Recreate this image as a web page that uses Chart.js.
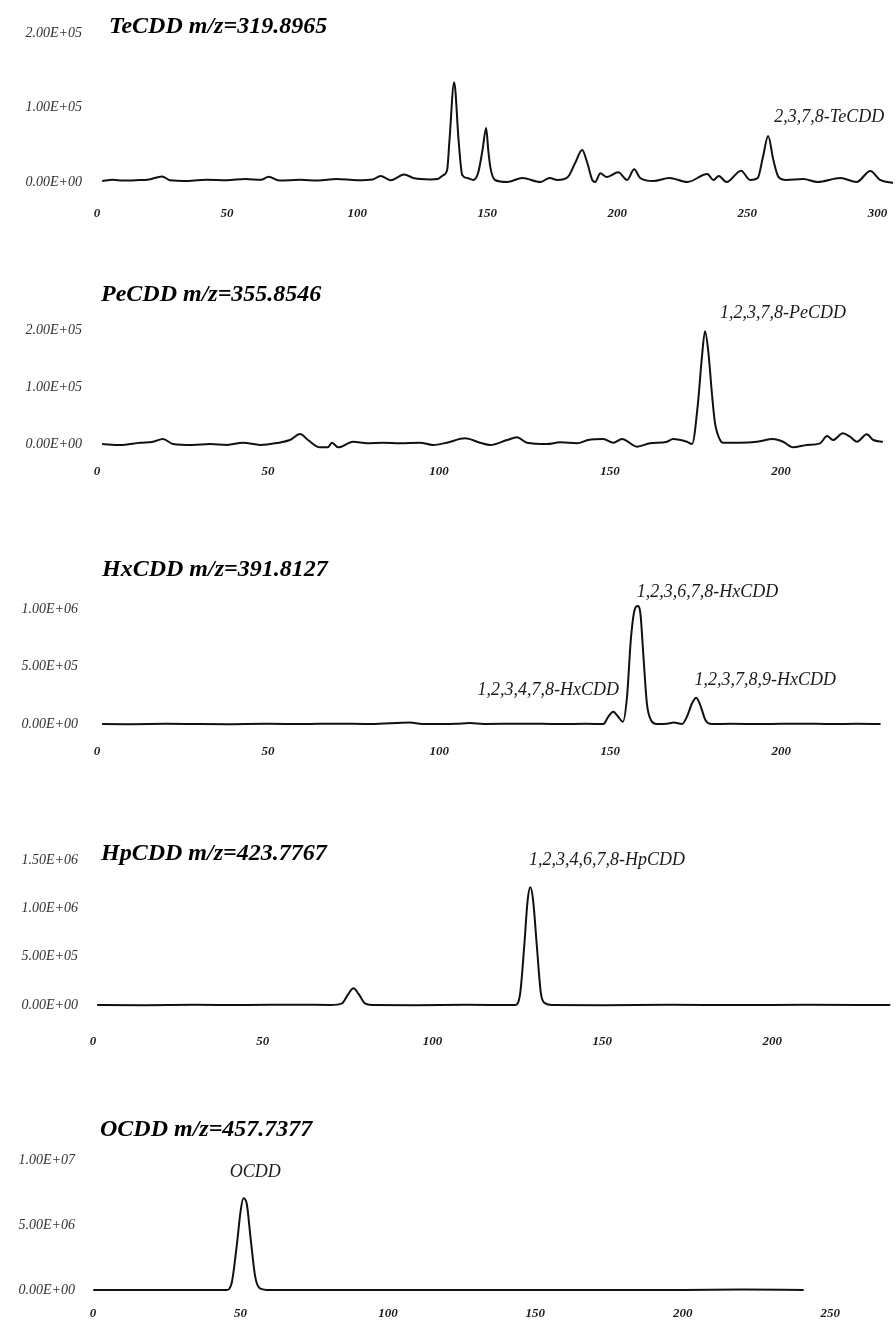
<!DOCTYPE html>
<html>
<head>
<meta charset="utf-8">
<script src="https://cdn.jsdelivr.net/npm/chart.js@4/dist/chart.umd.min.js"></script>
<style>
html,body{margin:0;padding:0;background:#fff;}
#wrap{position:relative;width:896px;height:1324px;overflow:hidden;background:#fff;}
#wrap canvas{position:absolute;left:0;}
</style>
</head>
<body>
<div id="wrap">
<canvas id="c1" width="896" height="245" style="top:0px"></canvas>
<canvas id="c2" width="896" height="270" style="top:245px"></canvas>
<canvas id="c3" width="896" height="275" style="top:515px"></canvas>
<canvas id="c4" width="896" height="270" style="top:790px"></canvas>
<canvas id="c5" width="896" height="264" style="top:1060px"></canvas>
</div>
<script>
// ---------- data ----------
const titles = ["TeCDD m/z=319.8965", "PeCDD m/z=355.8546", "HxCDD m/z=391.8127", "HpCDD m/z=423.7767", "OCDD m/z=457.7377"];

// Panel 1: TeCDD
const teRt = [2,6,10,15,20,25,28,35,42,50,57,63,66,70,78,85,92,100,106,109,113,118,122,128,131,133,134.6,135.5,137.3,139,140.4,142.3,144.6,146.5,148.2,149.6,150.4,151.2,153,157.7,163.5,170.4,174,177,181,183.8,186.5,188.5,190.4,191.5,193.5,196,200.4,203.8,206.5,208.8,214,220,227,234.6,237,239,242,247.6,251,254,256,258,260,262,265,271.5,277,285.8,292,297.3,301,306];
const teAbund = [1500,3000,2000,2500,3500,7500,2500,1500,3000,2500,4000,3000,7000,2000,3000,2000,4000,2500,3500,8000,2500,10000,5000,3500,4000,9000,16000,56000,134000,56000,9400,5400,2700,12000,43000,72500,43000,20000,2700,0,5400,0,5400,2700,6700,25500,43000,25500,2700,0,11600,6700,13000,2700,17000,5400,1300,5400,0,10700,2700,8000,0,15200,2700,5400,33600,61700,29500,6700,2700,4000,0,5400,0,14800,2700,-1300];

// Panel 2: PeCDD
const peRt = [1.5,6.7,12.6,16.4,19.3,22.2,28,33,38,42.7,47.7,52.6,56.4,59.4,61.7,65.2,67.5,68.7,70.5,74.9,79,83.6,88.6,94.4,98.2,102.3,107.6,112,115,119.9,122.8,125.7,131.6,135.4,140.4,143.6,148,151,153.5,157.9,161.7,166.7,168.4,172.5,174,175.7,176.8,177.8,178.8,179.8,180.7,182.2,183,188,193,197.7,200.6,203.5,207.6,211.4,213.5,215.2,218.1,220.2,222.2,225.1,227,229.8];
const peAbund = [0,-1700,2300,4000,8800,0,-1700,0,-1700,2300,-1700,1700,7000,17500,7000,-5800,-5800,2300,-5800,4000,1200,2300,1200,2300,-1700,2300,10000,2300,-1700,7000,11700,2300,0,2900,1200,7000,8800,2300,8800,-4700,1200,4000,8800,4000,0,70000,147000,198000,159000,89000,37000,7000,2300,2300,4000,8800,4000,-5800,-1700,1200,14000,7000,18700,12800,4000,17000,7000,4000];

// Panel 3: HxCDD
const hxRt = [1.5,10,20,30,40,50,60,70,80,91.5,95,105,109,113,125,135,143,148,149.4,150.9,152.3,153.7,154.9,156,157.1,158,158.8,159.7,160.7,161.9,163.6,166.6,168.5,171,172.4,173.9,175.1,176.3,177.8,179.7,185,195,205,215,222,229];
const hxAbund = [0,-3000,2000,0,-2000,2000,0,3000,0,12000,0,3000,8000,0,3000,0,2000,0,63000,107000,63000,20000,237000,730000,991000,1026000,963000,585000,180000,35000,0,3000,12000,0,63000,180000,229000,165000,35000,0,2000,0,3000,0,2000,0];

// Panel 4: HpCDD
const hpRt = [1.2,15,30,45,60,70,73.3,75.2,76.7,78.2,80.1,82.1,95,110,124.3,125.8,127,128,128.8,129.6,130.7,131.9,133.2,135.1,150,170,190,210,234.8];
const hpAbund = [0,-2000,2000,0,3000,0,17000,114000,172000,114000,17000,0,-2000,2000,0,121000,613000,1086000,1218000,1086000,613000,121000,17000,0,-2000,2000,0,2000,0];

// Panel 5: OCDD
const ocRt = [0.1,20,40,45.3,47,48.7,50.1,51,52.1,53.5,55,56.6,60,100,150,200,220,241];
const ocAbund = [0,0,0,0,513000,3330000,6150000,7050000,6670000,3850000,1030000,130000,0,0,0,0,30000,0];

// Tick values and labels
const yTicks1 = [0, 100000, 200000];
const yLabels1 = ["0.00E+00", "1.00E+05", "2.00E+05"];
const yTicks2 = [0, 100000, 200000];
const yLabels2 = ["0.00E+00", "1.00E+05", "2.00E+05"];
const yTicks3 = [0, 500000, 1000000];
const yLabels3 = ["0.00E+00", "5.00E+05", "1.00E+06"];
const yTicks4 = [0, 500000, 1000000, 1500000];
const yLabels4 = ["0.00E+00", "5.00E+05", "1.00E+06", "1.50E+06"];
const yTicks5 = [0, 5000000, 10000000];
const yLabels5 = ["0.00E+00", "5.00E+06", "1.00E+07"];

const xTicks1 = [0, 50, 100, 150, 200, 250, 300];
const xTicks2 = [0, 50, 100, 150, 200];
const xTicks3 = [0, 50, 100, 150, 200];
const xTicks4 = [0, 50, 100, 150, 200];
const xTicks5 = [0, 50, 100, 150, 200, 250];

// Peak labels
const peakNames1 = ["2,3,7,8-TeCDD"];
const peakNames2 = ["1,2,3,7,8-PeCDD"];
const peakNames3 = ["1,2,3,6,7,8-HxCDD", "1,2,3,4,7,8-HxCDD", "1,2,3,7,8,9-HxCDD"];
const peakNames4 = ["1,2,3,4,6,7,8-HpCDD"];
const peakNames5 = ["OCDD"];

// ---------- layout (positions, in pixels / data coords) ----------
const geom = [
  {height:245, areaTop:33, areaBottom:182, left:97, right:893, yPad:15, xPad:24, titleX:109, titleY:33, xMax:306},
  {height:270, areaTop:85, areaBottom:199, left:97, right:887, yPad:15, xPad:20, titleX:101, titleY:56, xMax:231},
  {height:275, areaTop:94, areaBottom:209, left:97, right:884, yPad:19, xPad:20, titleX:102, titleY:61, xMax:230},
  {height:270, areaTop:70, areaBottom:215, left:93, right:891, yPad:15, xPad:29, titleX:101, titleY:70, xMax:235},
  {height:264, areaTop:100, areaBottom:230, left:93, right:845, yPad:18, xPad:16, titleX:100, titleY:76, xMax:255}
];
const notePos = [
  [{x:281.5, y:87200}],
  [{x:200.6, y:229800}],
  [{x:178.4, y:1148000}, {x:131.9, y:295700}, {x:195.3, y:382600}],
  [{x:151.4, y:1500000}],
  [{x:55, y:9077000}]
];

const SERIF = '"Liberation Serif", "Times New Roman", serif';

const panelText = {
  id: 'panelText',
  afterDraw(chart, args, opts) {
    const {ctx, scales} = chart;
    ctx.save();
    ctx.fillStyle = '#000';
    ctx.font = 'italic bold 24px ' + SERIF;
    ctx.textAlign = 'left';
    ctx.textBaseline = 'alphabetic';
    ctx.fillText(opts.title, opts.titleX, opts.titleY);
    ctx.font = 'italic 18px ' + SERIF;
    ctx.fillStyle = '#1a1a1a';
    ctx.textAlign = 'center';
    ctx.textBaseline = 'middle';
    opts.names.forEach((name, k) => {
      const p = opts.pos[k];
      ctx.fillText(name, scales.x.getPixelForValue(p.x), scales.y.getPixelForValue(p.y));
    });
    ctx.restore();
  }
};

function makeChart(i, rt, ab, yVals, yLbls, xVals, names) {
  const G = geom[i];
  const canvas = document.getElementById('c' + (i + 1));
  return new Chart(canvas, {
    type: 'line',
    data: {
      datasets: [{
        data: rt.map((x, k) => ({x: x, y: ab[k]})),
        borderColor: '#111',
        borderWidth: 2,
        pointRadius: 0,
        fill: false,
        cubicInterpolationMode: 'monotone',
        clip: false
      }]
    },
    options: {
      responsive: false,
      animation: false,
      devicePixelRatio: 1,
      layout: {padding: {top: G.areaTop, right: 896 - G.right, bottom: 0, left: 0}},
      plugins: {
        legend: {display: false},
        tooltip: {enabled: false},
        title: {display: false},
        panelText: {title: titles[i], titleX: G.titleX, titleY: G.titleY, names: names, pos: notePos[i]}
      },
      scales: {
        x: {
          type: 'linear', min: 0, max: G.xMax,
          grid: {display: false, drawTicks: false},
          border: {display: false},
          afterBuildTicks: s => { s.ticks = xVals.map(v => ({value: v})); },
          afterFit: s => { s.height = G.height - G.areaBottom; s.paddingLeft = 0; s.paddingRight = 0; },
          ticks: {
            padding: G.xPad, maxRotation: 0, minRotation: 0, autoSkip: false,
            color: '#1a1a1a',
            font: {family: SERIF, style: 'italic', weight: 'bold', size: 13},
            callback: v => String(v)
          }
        },
        y: {
          type: 'linear', min: 0, max: yVals[yVals.length - 1],
          grid: {display: false, drawTicks: false},
          border: {display: false},
          afterBuildTicks: s => { s.ticks = yVals.map(v => ({value: v})); },
          afterFit: s => { s.width = G.left; s.paddingTop = 0; s.paddingBottom = 0; },
          ticks: {
            padding: G.yPad, autoSkip: false,
            color: '#333',
            font: {family: SERIF, style: 'italic', size: 14},
            callback: v => yLbls[yVals.indexOf(v)]
          }
        }
      }
    },
    plugins: [panelText]
  });
}

makeChart(0, teRt, teAbund, yTicks1, yLabels1, xTicks1, peakNames1);
makeChart(1, peRt, peAbund, yTicks2, yLabels2, xTicks2, peakNames2);
makeChart(2, hxRt, hxAbund, yTicks3, yLabels3, xTicks3, peakNames3);
makeChart(3, hpRt, hpAbund, yTicks4, yLabels4, xTicks4, peakNames4);
makeChart(4, ocRt, ocAbund, yTicks5, yLabels5, xTicks5, peakNames5);
</script>
</body>
</html>
